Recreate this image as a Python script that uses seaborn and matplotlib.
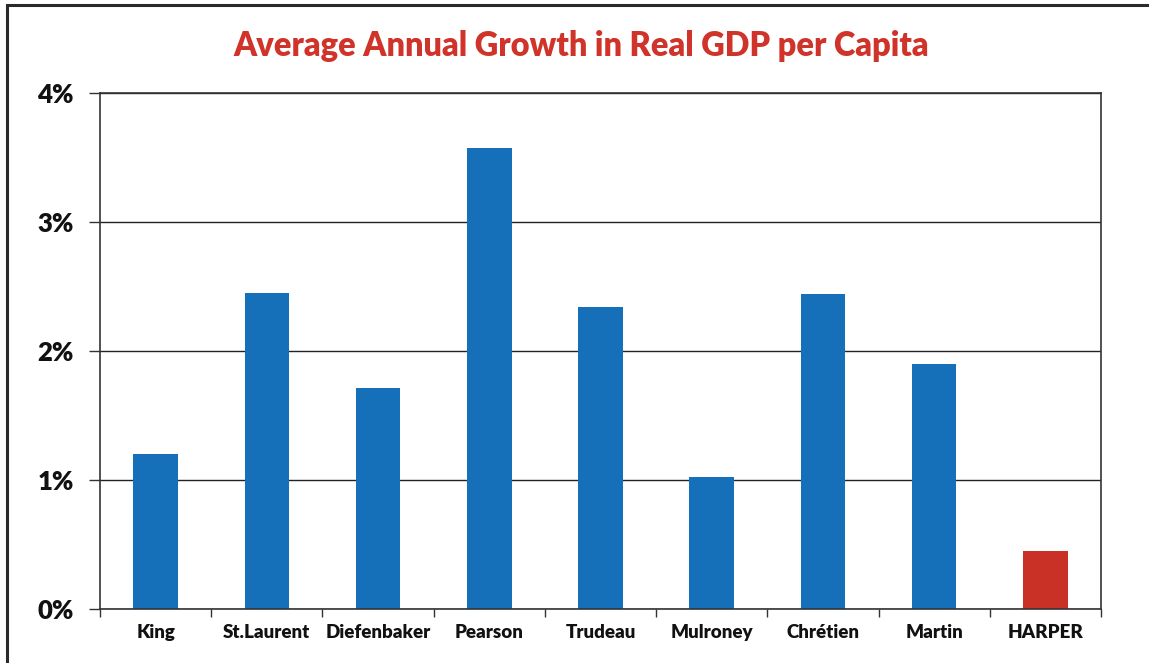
import matplotlib
matplotlib.use("Agg")
import matplotlib.pyplot as plt
import matplotlib.patches as mpatches
from matplotlib.ticker import FuncFormatter, FixedLocator
import seaborn as sns
import pandas as pd

# Prime ministers and average annual growth in real GDP per capita (%)
leaders = ["King", "St.Laurent", "Diefenbaker", "Pearson", "Trudeau",
           "Mulroney", "Chrétien", "Martin", "HARPER"]
growth = [1.20, 2.45, 1.71, 3.57, 2.34, 1.02, 2.44, 1.90, 0.45]
bar_colors = ["#1570b9"] * 8 + ["#c93127"]
y_ticks = [0, 1, 2, 3, 4]

sns.set_theme(style="white")
plt.rcParams["font.family"] = ["Lato", "DejaVu Sans"]

df = pd.DataFrame({"leader": leaders, "growth": growth})

fig = plt.figure(figsize=(11.49, 6.63), dpi=100)
ax = fig.add_axes([100 / 1149, 1 - 609 / 663, 1001 / 1149, 516 / 663])

sns.barplot(data=df, x="leader", y="growth", hue="leader",
            palette=bar_colors, width=0.4, legend=False, ax=ax,
            saturation=1, edgecolor="none")

ax.set_xlim(-0.5, len(leaders) - 0.5)
ax.set_ylim(0, 4)
ax.yaxis.set_major_locator(FixedLocator(y_ticks))
ax.yaxis.set_major_formatter(FuncFormatter(lambda v, _: f"{v:.0f}%"))
ax.grid(axis="y", color="#222222", linewidth=1.0)
ax.set_axisbelow(True)

# Category labels centred, tick marks on the category boundaries
ax.set_xticks(range(len(leaders)))
ax.set_xticklabels(leaders, fontsize=13.5, fontweight="heavy", color="#111111")
ax.set_xticks([i - 0.5 for i in range(len(leaders) + 1)], minor=True)
ax.tick_params(axis="x", which="major", length=0, pad=11)
ax.tick_params(axis="x", which="minor", length=6, width=1, color="#333333",
               direction="out", bottom=True)
ax.tick_params(axis="y", which="major", length=8, width=1, color="#333333",
               direction="out", left=True, pad=11)
for lbl in ax.get_yticklabels():
    lbl.set_fontsize(18.5)
    lbl.set_fontweight("heavy")
    lbl.set_color("#111111")

ax.set_xlabel("")
ax.set_ylabel("")
for side in ["left", "bottom", "top", "right"]:
    ax.spines[side].set_visible(True)
    ax.spines[side].set_color("#333333")
    ax.spines[side].set_linewidth(1.2)

fig.text(581 / 1149, 1 - 46 / 663, "Average Annual Growth in Real GDP per Capita",
         ha="center", va="center", fontsize=23.5, fontweight="heavy", color="#d0332a")

# Outer frame around the figure
frame = mpatches.Rectangle((7 / 1149, -0.05), 1.1, 1 - 5 / 663 + 0.05,
                           transform=fig.transFigure, fill=False,
                           edgecolor="#2a2a2a", linewidth=2.2, clip_on=False)
fig.patches.append(frame)

fig.savefig("out.png", dpi=100)
